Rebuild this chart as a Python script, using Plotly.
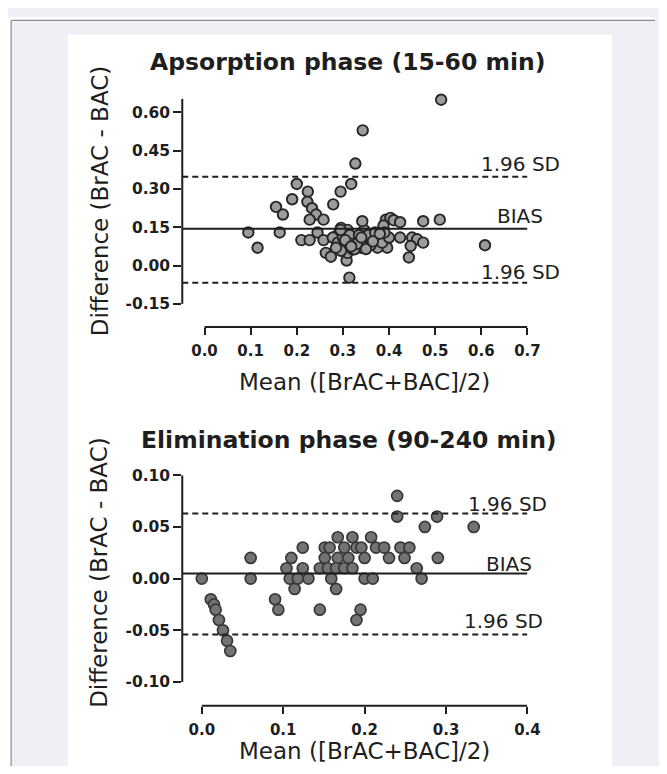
import plotly.graph_objects as go

# Page geometry: body margin of 8px; the page is laid out 676px wide and
# photographed into 667px, so horizontal positions are converted accordingly.
OFF = 8
PAGE_W, PAGE_H = 676, 774
W, H = PAGE_W - 2 * OFF, PAGE_H - 2 * OFF
SX = PAGE_W / 667.0

# ---------------- data: absorption phase (15-60 min) ----------------
ABS_MEAN = [0.095, 0.115, 0.155, 0.163, 0.170, 0.190, 0.200, 0.210, 0.224, 0.223,
            0.233, 0.242, 0.228, 0.258, 0.228, 0.245, 0.258, 0.279, 0.295, 0.318,
            0.327, 0.343, 0.513, 0.314, 0.263, 0.274, 0.308,
            0.289, 0.296, 0.306, 0.278, 0.289, 0.303, 0.317, 0.310, 0.321, 0.296,
            0.310, 0.330, 0.339, 0.325, 0.346, 0.364, 0.382, 0.396, 0.375, 0.342,
            0.393, 0.403, 0.410, 0.424, 0.388, 0.474, 0.510, 0.424, 0.450, 0.461,
            0.474, 0.447, 0.443, 0.608,
            0.300, 0.315, 0.320, 0.335, 0.345, 0.355, 0.360, 0.370, 0.350, 0.385,
            0.400, 0.390, 0.305, 0.330, 0.365, 0.380, 0.340, 0.285, 0.295, 0.318]
ABS_DIFF = [0.13, 0.07, 0.23, 0.13, 0.20, 0.26, 0.32, 0.10, 0.29, 0.25,
            0.225, 0.20, 0.18, 0.18, 0.10, 0.13, 0.10, 0.24, 0.29, 0.32,
            0.40, 0.53, 0.65, -0.047, 0.05, 0.035, 0.02,
            0.12, 0.148, 0.135, 0.11, 0.09, 0.077, 0.10, 0.05, 0.064, 0.058,
            0.14, 0.10, 0.07, 0.064, 0.14, 0.11, 0.11, 0.07, 0.07, 0.174,
            0.18, 0.187, 0.178, 0.17, 0.157, 0.174, 0.18, 0.11, 0.11, 0.103,
            0.09, 0.077, 0.032, 0.08,
            0.11, 0.12, 0.085, 0.12, 0.095, 0.12, 0.08, 0.13, 0.065, 0.09,
            0.11, 0.13, 0.10, 0.085, 0.095, 0.125, 0.11, 0.07, 0.14, 0.075]
ABS_BIAS = 0.144
ABS_SD_UP = 0.348
ABS_SD_LO = -0.067

ABS_XTICKS = [0.0, 0.1, 0.2, 0.3, 0.4, 0.5, 0.6, 0.7]
ABS_XTICKTEXT = ["0.0", "0.1", "0.2", "0.3", "0.4", "0.5", "0.6", "0.7"]
ABS_YTICKS = [-0.15, 0.0, 0.15, 0.30, 0.45, 0.60]
ABS_YTICKTEXT = ["-0.15", "0.00", "0.15", "0.30", "0.45", "0.60"]

# ---------------- data: elimination phase (90-240 min) ----------------
ELI_MEAN = [0.000, 0.011, 0.015, 0.017, 0.021, 0.026, 0.031, 0.035,
            0.060, 0.060,
            0.090, 0.094,
            0.104, 0.110, 0.108, 0.114, 0.124, 0.124, 0.118, 0.131,
            0.145, 0.145,
            0.151, 0.157, 0.167, 0.175, 0.185, 0.151, 0.167, 0.180, 0.155, 0.165,
            0.175, 0.185, 0.159, 0.165,
            0.190, 0.195,
            0.190, 0.196, 0.200, 0.208, 0.214, 0.224, 0.230, 0.244, 0.249, 0.255,
            0.200, 0.210,
            0.240, 0.240, 0.264, 0.270, 0.274, 0.289, 0.290, 0.334]
ELI_DIFF = [0.00, -0.02, -0.025, -0.03, -0.04, -0.05, -0.06, -0.07,
            0.02, 0.00,
            -0.02, -0.03,
            0.01, 0.02, 0.00, -0.01, 0.03, 0.01, 0.00, 0.00,
            0.01, -0.03,
            0.03, 0.03, 0.04, 0.03, 0.04, 0.02, 0.02, 0.02, 0.01, 0.01,
            0.01, 0.01, 0.00, -0.01,
            -0.04, -0.03,
            0.03, 0.03, 0.02, 0.04, 0.03, 0.03, 0.02, 0.03, 0.02, 0.03,
            0.00, 0.00,
            0.08, 0.06, 0.01, 0.00, 0.05, 0.06, 0.02, 0.05]
ELI_BIAS = 0.005
ELI_SD_UP = 0.063
ELI_SD_LO = -0.054

ELI_XTICKS = [0.0, 0.1, 0.2, 0.3, 0.4]
ELI_XTICKTEXT = ["0.0", "0.1", "0.2", "0.3", "0.4"]
ELI_YTICKS = [-0.10, -0.05, 0.0, 0.05, 0.10]
ELI_YTICKTEXT = ["-0.10", "-0.05", "0.00", "0.05", "0.10"]

TITLES = ["Apsorption phase (15-60 min)", "Elimination phase (90-240 min)"]
XTITLE = "Mean ([BrAC+BAC]/2)"
YTITLE = "Difference (BrAC - BAC)"

# ---------------- styling ----------------
INK = "#1e1e1e"
TICKFONT_Y = dict(family="DejaVu Sans", size=15.5, color=INK, weight="bold")
TICKFONT_X = dict(family="DejaVu Sans", size=15, color=INK, weight="bold")
LABFONT = dict(family="DejaVu Sans", size=23, color=INK)
TITFONT = dict(family="DejaVu Sans", size=23.5, color=INK, weight="bold")
REFFONT = dict(family="DejaVu Sans", size=20, color=INK)


def px(x):
    # picture x (pixels) -> paper fraction
    return (x * SX - OFF) / W


def py(y):
    # picture y (pixels) -> paper fraction
    return 1 - (y - OFF) / H


def xdom(a, b):
    return [px(a), px(b)]


def ydom(top, bot):
    return [py(bot), py(top)]


fig = go.Figure()

fig.add_trace(go.Scatter(
    x=ABS_MEAN, y=ABS_DIFF, mode="markers", xaxis="x", yaxis="y",
    cliponaxis=False, showlegend=False,
    marker=dict(size=10.5, color="#9c9c9c", line=dict(color="#262626", width=1.9))))
fig.add_trace(go.Scatter(
    x=ELI_MEAN, y=ELI_DIFF, mode="markers", xaxis="x2", yaxis="y2",
    cliponaxis=False, showlegend=False,
    marker=dict(size=11, color="#737373", line=dict(color="#383838", width=1.7))))

ABS_XR = [-0.0482, 0.7]
ABS_YR = [-0.2405, 0.654]
ELI_XR = [-0.024, 0.4]
ELI_YR = [-0.1229, 0.10]

common_axis = dict(showgrid=False, zeroline=False, showline=False,
                   ticks="outside", tickwidth=2, tickcolor=INK, fixedrange=True)

fig.update_layout(
    width=W, height=H,
    margin=dict(l=0, r=0, t=0, b=0),
    paper_bgcolor="#eff0f6",
    plot_bgcolor="rgba(0,0,0,0)",
    xaxis=dict(domain=xdom(183.3, 530.7), range=ABS_XR, anchor="y",
               tickmode="array", tickvals=ABS_XTICKS, ticktext=ABS_XTICKTEXT,
               ticklen=7, ticklabelstandoff=3, tickfont=TICKFONT_X, **common_axis),
    yaxis=dict(domain=ydom(90.7, 321.7), range=ABS_YR, anchor="x",
               tickmode="array", tickvals=ABS_YTICKS, ticktext=ABS_YTICKTEXT,
               ticklen=8, tickfont=TICKFONT_Y, **common_axis),
    xaxis2=dict(domain=xdom(183.3, 530.7), range=ELI_XR, anchor="y2",
                tickmode="array", tickvals=ELI_XTICKS, ticktext=ELI_XTICKTEXT,
                ticklen=7, ticklabelstandoff=3, tickfont=TICKFONT_X, **common_axis),
    yaxis2=dict(domain=ydom(471.7, 705), range=ELI_YR, anchor="x2",
                tickmode="array", tickvals=ELI_YTICKS, ticktext=ELI_YTICKTEXT,
                ticklen=8, tickfont=TICKFONT_Y, **common_axis),
)

shapes = []
# page background: white band above/left of the frame, white panel, frame lines
shapes.append(dict(type="rect", xref="paper", yref="paper", layer="below",
                   x0=0, x1=1, y0=py(11.5), y1=1,
                   fillcolor="white", line=dict(width=0)))
shapes.append(dict(type="rect", xref="paper", yref="paper", layer="below",
                   x0=0, x1=px(11), y0=0, y1=1,
                   fillcolor="white", line=dict(width=0)))
shapes.append(dict(type="rect", xref="paper", yref="paper", layer="below",
                   x0=px(68), x1=px(616), y0=0, y1=py(26),
                   fillcolor="white", line=dict(width=0)))
shapes.append(dict(type="line", xref="paper", yref="paper",
                   x0=px(11), x1=1, y0=py(11.5), y1=py(11.5),
                   line=dict(color="#8c8c8c", width=1.2)))
shapes.append(dict(type="line", xref="paper", yref="paper",
                   x0=px(11), x1=px(11), y0=0, y1=py(11.5),
                   line=dict(color="#8c8c8c", width=1.2)))


def panel_shapes(xa, ya, xr, yr, xmax, ymin, bias, up, lo):
    out = []
    # offset axis lines (Prism style)
    out.append(dict(type="line", xref=xa, yref=ya + " domain", x0=0, x1=xmax, y0=0, y1=0,
                    line=dict(color=INK, width=2)))
    out.append(dict(type="line", xref=xa + " domain", yref=ya, x0=0, x1=0, y0=ymin, y1=yr[1],
                    line=dict(color=INK, width=2)))
    out.append(dict(type="line", xref=xa, yref=ya, x0=xr[0], x1=xmax, y0=bias, y1=bias,
                    line=dict(color=INK, width=2)))
    for v in (up, lo):
        out.append(dict(type="line", xref=xa, yref=ya, x0=xr[0], x1=xmax, y0=v, y1=v,
                        line=dict(color=INK, width=2, dash="6px,4px")))
    return out


shapes += panel_shapes("x", "y", ABS_XR, ABS_YR, ABS_XTICKS[-1], ABS_YTICKS[0],
                       ABS_BIAS, ABS_SD_UP, ABS_SD_LO)
shapes += panel_shapes("x2", "y2", ELI_XR, ELI_YR, ELI_XTICKS[-1], ELI_YTICKS[0],
                       ELI_BIAS, ELI_SD_UP, ELI_SD_LO)
fig.update_layout(shapes=shapes)

ann = []


def ref_labels(xa, ya, xmax, bias, up, lo, sh):
    return [
        dict(xref=xa, yref=ya, x=xmax, y=up, text="1.96 SD", showarrow=False,
             xanchor="right", yanchor="middle", xshift=sh[0][0] * SX, yshift=sh[0][1],
             font=REFFONT),
        dict(xref=xa, yref=ya, x=xmax, y=bias, text="BIAS", showarrow=False,
             xanchor="right", yanchor="middle", xshift=sh[1][0] * SX, yshift=sh[1][1],
             font=REFFONT),
        dict(xref=xa, yref=ya, x=xmax, y=lo, text="1.96 SD", showarrow=False,
             xanchor="right", yanchor="middle", xshift=sh[2][0] * SX, yshift=sh[2][1],
             font=REFFONT),
    ]


ann += ref_labels("x", "y", ABS_XTICKS[-1], ABS_BIAS, ABS_SD_UP, ABS_SD_LO,
                  [(34, 13), (17, 13), (34, 11)])
ann += ref_labels("x2", "y2", ELI_XTICKS[-1], ELI_BIAS, ELI_SD_UP, ELI_SD_LO,
                  [(21, 9), (6, 9), (17, 13)])

# panel titles
ann.append(dict(xref="paper", yref="paper", x=px(350), y=py(54), text=TITLES[0],
                showarrow=False, xanchor="center", yanchor="middle", font=TITFONT))
ann.append(dict(xref="paper", yref="paper", x=px(351), y=py(436), text=TITLES[1],
                showarrow=False, xanchor="center", yanchor="middle", font=TITFONT))
# axis titles
for yc in (377, 751):
    ann.append(dict(xref="paper", yref="paper", x=px(367), y=py(yc), text=XTITLE,
                    showarrow=False, xanchor="center", yanchor="middle", font=LABFONT))
for yc in (194, 570):
    ann.append(dict(xref="paper", yref="paper", x=px(100), y=py(yc), text=YTITLE,
                    showarrow=False, xanchor="center", yanchor="middle", textangle=-90,
                    font=LABFONT))
fig.update_layout(annotations=ann)

fig.write_html("out.html")
